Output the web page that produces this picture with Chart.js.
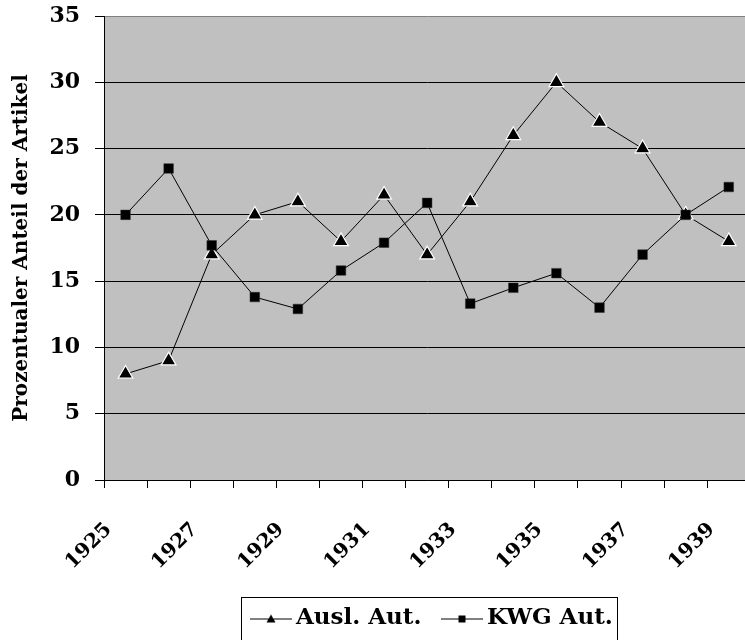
<!DOCTYPE html>
<html>
<head>
<meta charset="utf-8">
<script src="https://cdn.jsdelivr.net/npm/chart.js@4.4.0/dist/chart.umd.min.js"></script>
<style>
    html, body { margin: 0; padding: 0; background: #fff; overflow: hidden; }
    #wrap { width: 760px; height: 640px; }
</style>
</head>
<body>
<div id="wrap"><canvas id="lineChart" width="760" height="640"></canvas></div>
<script>
var years = ['1925', '1926', '1927', '1928', '1929', '1930', '1931', '1932',
             '1933', '1934', '1935', '1936', '1937', '1938', '1939'];
var auslAut = [8, 9, 17, 20, 21, 18, 21.5, 17, 21, 26, 30, 27, 25, 20, 18];
var kwgAut = [20, 23.5, 17.7, 13.8, 12.9, 15.8, 17.9, 20.9, 13.3, 14.5, 15.6, 13, 17, 20, 22.1];
var yMin = 0, yMax = 35, yStep = 5;

var fontFam = '"DejaVu Serif", "Liberation Serif", serif';
var legendShift = 8;
const lineChart = document.getElementById('lineChart');

// little line+marker images for the legend
function legendIcon(kind) {
    const c = document.createElement('canvas');
    c.width = 42; c.height = 14;
    const g = c.getContext('2d');
    g.strokeStyle = '#000';
    g.lineWidth = 1;
    g.beginPath(); g.moveTo(0, 7.5); g.lineTo(42, 7.5); g.stroke();
    g.fillStyle = '#000';
    if (kind == 'triangle') {
        g.beginPath(); g.moveTo(21, 3); g.lineTo(25.5, 11); g.lineTo(16.5, 11); g.closePath(); g.fill();
    } else {
        g.fillRect(17.5, 4, 7, 7);
    }
    return c;
}

const plotBg = {
    id: 'plotBg',
    beforeDraw(chart) {
        const a = chart.chartArea, ctx = chart.ctx;
        ctx.save();
        ctx.fillStyle = '#c0c0c0';
        ctx.fillRect(a.left, a.top, a.right - a.left, a.bottom - a.top);
        ctx.restore();
    }
};

const legendBox = {
    id: 'legendBox',
    afterLayout(chart) {
        chart.legend.left += legendShift;
        chart.legend.right += legendShift;
    },
    afterDraw(chart) {
        const lg = chart.legend, ctx = chart.ctx;
        const boxes = lg.legendHitBoxes;
        if (!boxes || !boxes.length) return;
        const l = Math.min(...boxes.map(b => b.left)) - 16;
        const r = Math.max(...boxes.map(b => b.left + b.width)) + 5;
        const t = boxes[0].top + boxes[0].height / 2 - 22;
        ctx.save();
        ctx.strokeStyle = '#000';
        ctx.lineWidth = 1;
        ctx.strokeRect(Math.round(l) + 0.5, Math.round(t) + 0.5, Math.round(r - l), 80);
        ctx.restore();
    }
};

var config = {
    type: 'line',
    data: {
        labels: years,
        datasets: [{
            label: 'Ausl. Aut.',
            data: auslAut,
            borderColor: '#000',
            borderWidth: 1,
            tension: 0,
            pointStyle: 'triangle',
            pointRadius: 8.5,
            pointBackgroundColor: '#000',
            pointBorderColor: '#fff',
            pointBorderWidth: 1.2,
            order: 1,
            icon: legendIcon('triangle')
        }, {
            label: 'KWG Aut.',
            data: kwgAut,
            borderColor: '#000',
            borderWidth: 1,
            tension: 0,
            pointStyle: 'rect',
            pointRadius: 6.8,
            pointBackgroundColor: '#000',
            pointBorderColor: '#333',
            pointBorderWidth: 0.5,
            order: 0,
            icon: legendIcon('rect')
        }]
    },
    options: {
        responsive: false,
        animation: false,
        layout: { padding: { top: 16, right: 7, left: 0, bottom: 0 } },
        plugins: {
            tooltip: { enabled: false },
            legend: {
                display: true,
                position: 'bottom',
                fullSize: false,
                labels: {
                    color: '#000',
                    font: { family: fontFam, size: 23, weight: 'bold' },
                    usePointStyle: true,
                    pointStyleWidth: 27,
                    padding: 27,
                    generateLabels: function (chart) {
                        return chart.data.datasets.map((ds, i) => ({
                            text: ds.label,
                            pointStyle: ds.icon,
                            fillStyle: '#000',
                            strokeStyle: '#000',
                            lineWidth: 0,
                            datasetIndex: i,
                            fontColor: '#000'
                        }));
                    }
                }
            }
        },
        scales: {
            x: {
                offset: true,
                grid: {
                    offset: true,
                    drawOnChartArea: false,
                    drawTicks: true,
                    tickLength: 8,
                    color: '#000'
                },
                border: { color: '#000', width: 1 },
                ticks: {
                    autoSkip: false,
                    minRotation: 45,
                    maxRotation: 45,
                    padding: 30,
                    labelOffset: -17,
                    color: '#000',
                    font: { family: fontFam, size: 20, weight: 'bold' },
                    callback: function (value, index) {
                        return index % 2 == 0 ? years[index] : '';
                    }
                },
                afterFit: function (scale) {
                    scale.height = 100;
                    scale.paddingLeft = 0;
                    scale.paddingRight = 0;
                }
            },
            y: {
                min: yMin,
                max: yMax,
                grid: {
                    color: function (c) { return c.tick && c.tick.value == yMax ? '#808080' : '#000'; },
                    tickColor: '#000',
                    tickLength: 9,
                    lineWidth: 1
                },
                border: { color: '#000', width: 1 },
                ticks: {
                    stepSize: yStep,
                    padding: 15,
                    color: '#000',
                    font: { family: fontFam, size: 22, weight: 'bold' }
                },
                title: {
                    display: true,
                    text: 'Prozentualer Anteil der Artikel',
                    color: '#000',
                    font: { family: fontFam, size: 20, weight: 'bold' },
                    padding: { top: 10, bottom: 0 }
                },
                afterFit: function (scale) {
                    scale.width = 104;
                    scale.paddingTop = 0;
                    scale.paddingBottom = 0;
                }
            }
        }
    },
    plugins: [plotBg, legendBox]
};

var myLineChart = new Chart(lineChart, config);
</script>
</body>
</html>
